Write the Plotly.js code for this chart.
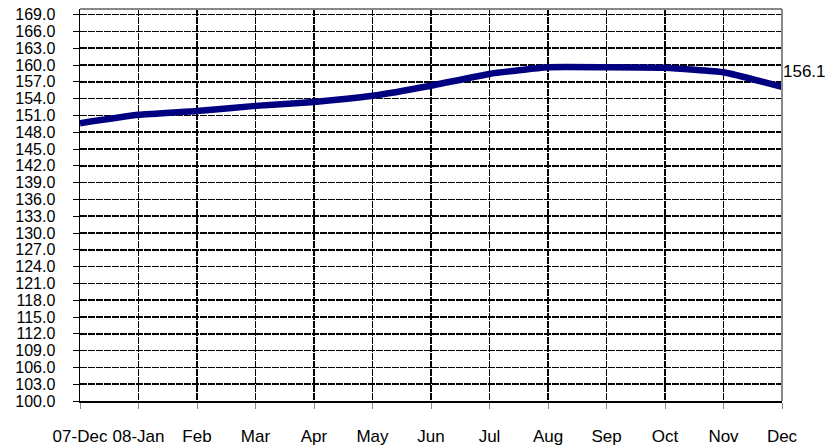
<!DOCTYPE html>
<html>
<head>
<meta charset="utf-8">
<script src="https://cdn.plot.ly/plotly-3.0.1.min.js"></script>
<style>
html,body{margin:0;padding:0;background:#fff;}
#chart{width:829px;height:448px;}
</style>
</head>
<body>
<div id="chart"></div>
<script>
const categories = ['07-Dec','08-Jan','Feb','Mar','Apr','May','Jun','Jul','Aug','Sep','Oct','Nov','Dec'];
const values = [149.6, 151.1, 151.8, 152.7, 153.4, 154.5, 156.3, 158.4, 159.6, 159.6, 159.5, 158.7, 156.1];
const yTicks = [];
for (let v = 100; v <= 169; v += 3) yTicks.push(v);
const yTickLabels = yTicks.map(v => v.toFixed(1));
const lastLabel = values[values.length - 1].toFixed(1);

const font = 'Liberation Sans, Arial, sans-serif';

const trace = {
  x: categories,
  y: values,
  type: 'scatter',
  mode: 'lines',
  line: {color: '#000080', width: 6.5, shape: 'spline', smoothing: 0.4},
  hoverinfo: 'skip'
};

const layout = {
  width: 829, height: 448,
  margin: {l: 80, r: 47, t: 9, b: 47},
  paper_bgcolor: '#ffffff',
  plot_bgcolor: '#ffffff',
  showlegend: false,
  font: {family: font, size: 17, color: '#000'},
  xaxis: {
    type: 'category',
    range: [0, categories.length - 1],
    showgrid: true,
    gridcolor: '#000',
    gridwidth: 1.5,
    griddash: '7px,1px',
    showline: true, linecolor: '#000', linewidth: 1.5,
    ticks: 'outside', ticklen: 6, tickcolor: '#888', tickwidth: 1,
    ticklabelstandoff: 13,
    tickfont: {family: font, size: 17, color: '#000'},
    zeroline: false,
    fixedrange: true
  },
  yaxis: {
    range: [100, 170],
    tickmode: 'array',
    tickvals: yTicks,
    ticktext: yTickLabels,
    showgrid: true,
    gridcolor: '#000',
    gridwidth: 1.5,
    griddash: '7px,1px',
    showline: true, linecolor: '#000', linewidth: 1.5,
    ticks: 'outside', ticklen: 6, tickcolor: '#000', tickwidth: 1,
    ticklabelstandoff: 14,
    tickfont: {family: font, size: 16, color: '#000'},
    zeroline: false,
    fixedrange: true
  },
  shapes: [
    {type: 'line', xref: 'paper', yref: 'paper', x0: 0, x1: 1, y0: 1, y1: 1, line: {color: '#888', width: 2}},
    {type: 'line', xref: 'paper', yref: 'paper', x0: 1, x1: 1, y0: 0, y1: 1, line: {color: '#888', width: 2}}
  ],
  annotations: [
    {x: categories[categories.length - 1], y: values[values.length - 1], xref: 'x', yref: 'y',
     text: lastLabel, showarrow: false, xanchor: 'left', yanchor: 'middle', xshift: -1, yshift: 15,
     font: {family: font, size: 17, color: '#000'}}
  ]
};

Plotly.newPlot('chart', [trace], layout, {displayModeBar: false, staticPlot: true});
</script>
</body>
</html>
